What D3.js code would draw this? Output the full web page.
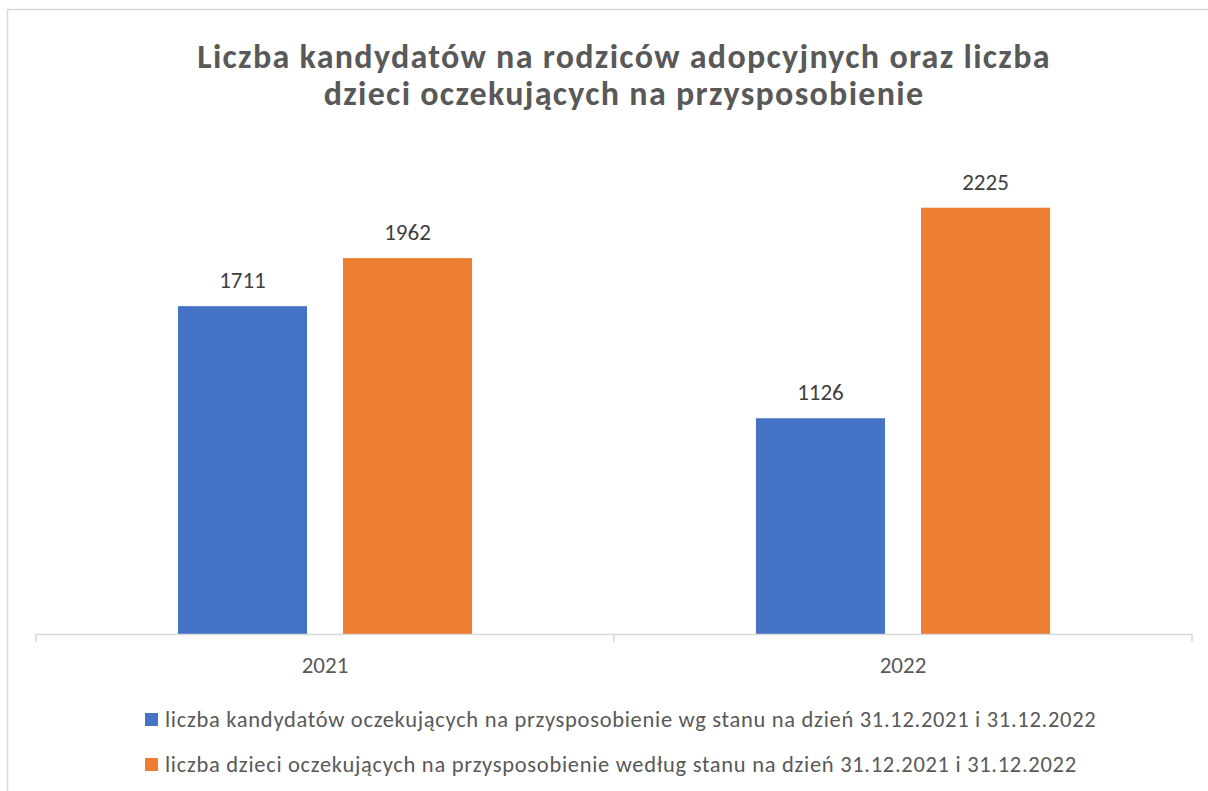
<!DOCTYPE html>
<html>
<head>
<meta charset="utf-8">
<script src="https://cdn.jsdelivr.net/npm/d3@7/dist/d3.min.js"></script>
<style>
  body { margin: 0; background: #fff; }
  text { font-family: Carlito, Calibri, Lato, "Open Sans", sans-serif; }
</style>
</head>
<body>
<script>
// chart data
var years = ['2021', '2022'];
var seriesNames = [
  'liczba kandydatów oczekujących na przysposobienie wg stanu na dzień 31.12.2021 i 31.12.2022',
  'liczba dzieci oczekujących na przysposobienie według stanu na dzień 31.12.2021 i 31.12.2022'
];
var candidates = [1711, 1126];
var children = [1962, 2225];
var titleLines = [
  'Liczba kandydatów na rodziców adopcyjnych oraz liczba',
  'dzieci oczekujących na przysposobienie'
];

var colors = ['#4472c4', '#ed7d31'];

var width = 1208,
    height = 791;

var svg = d3.select('body').append('svg')
  .attr('width', width)
  .attr('height', height);

// chart area border
svg.append('rect')
  .attr('x', 7.5).attr('y', 9.5)
  .attr('width', width + 20).attr('height', height + 20)
  .attr('fill', '#fff')
  .attr('stroke', '#d9d9d9')
  .attr('stroke-width', 1.5);

svg.append('text')
  .attr('text-anchor', 'middle')
  .attr('fill', '#595959')
  .style('font-size', '34px')
  .style('font-weight', 'bold')
  .style('letter-spacing', '1.3px')
  .selectAll('tspan')
  .data(titleLines)
  .enter().append('tspan')
    .attr('x', 624)
    .attr('y', function(d, i) { return 68 + i * 37; })
    .text(function(d) { return d; });

var data = years.map(function(y, i) {
  return { year: y, values: [candidates[i], children[i]] };
});

var x0 = d3.scaleBand()
  .domain(years)
  .range([36, 1192]);

var x1 = d3.scaleBand()
  .domain([0, 1])
  .range([0, x0.bandwidth()])
  .paddingInner(0.218)
  .paddingOuter(0.86);

var y = d3.scaleLinear()
  .domain([0, 2500])
  .range([634, 155]);

var groups = svg.selectAll('.group')
  .data(data)
  .enter().append('g')
    .attr('class', 'group')
    .attr('transform', function(d) { return 'translate(' + x0(d.year) + ',0)'; });

groups.selectAll('rect')
  .data(function(d) { return d.values; })
  .enter().append('rect')
    .attr('x', function(d, i) { return x1(i); })
    .attr('y', function(d) { return y(d); })
    .attr('width', x1.bandwidth())
    .attr('height', function(d) { return y(0) - y(d); })
    .attr('fill', function(d, i) { return colors[i]; });

groups.selectAll('.lbl')
  .data(function(d) { return d.values; })
  .enter().append('text')
    .attr('class', 'lbl')
    .attr('x', function(d, i) { return x1(i) + x1.bandwidth() / 2; })
    .attr('y', function(d) { return y(d) - 18; })
    .attr('text-anchor', 'middle')
    .attr('fill', '#404040')
    .style('font-size', '23px')
    .text(function(d) { return d; });

// x axis
var xAxis = svg.append('g')
  .attr('transform', 'translate(0,' + y(0) + ')')
  .call(d3.axisBottom(x0).tickSize(0).tickPadding(0));
xAxis.select('.domain').remove();
xAxis.selectAll('text')
  .attr('y', 39)
  .attr('dy', 0)
  .attr('fill', '#595959')
  .style('font-size', '23px')
  .style('font-family', null);

svg.append('line')
  .attr('x1', 36).attr('x2', 1192)
  .attr('y1', y(0) + 0.5).attr('y2', y(0) + 0.5)
  .attr('stroke', '#d9d9d9').attr('stroke-width', 1.5);

svg.selectAll('.tick-mark')
  .data([36, 1192].concat(years.slice(1).map(function(d) { return x0(d); })))
  .enter().append('line')
    .attr('class', 'tick-mark')
    .attr('x1', function(d) { return d; }).attr('x2', function(d) { return d; })
    .attr('y1', y(0)).attr('y2', y(0) + 8)
    .attr('stroke', '#d9d9d9').attr('stroke-width', 1.5);

// legend
var legend = svg.selectAll('.legend')
  .data(seriesNames)
  .enter().append('g')
    .attr('class', 'legend')
    .attr('transform', function(d, i) { return 'translate(145,' + (713 + i * 45) + ')'; });

legend.append('rect')
  .attr('width', 13).attr('height', 13)
  .attr('fill', function(d, i) { return colors[i]; });

legend.append('text')
  .attr('x', 20)
  .attr('y', 14)
  .attr('fill', '#595959')
  .style('font-size', '22.5px')
  .style('letter-spacing', '0.7px')
  .text(function(d) { return d; });
</script>
</body>
</html>
